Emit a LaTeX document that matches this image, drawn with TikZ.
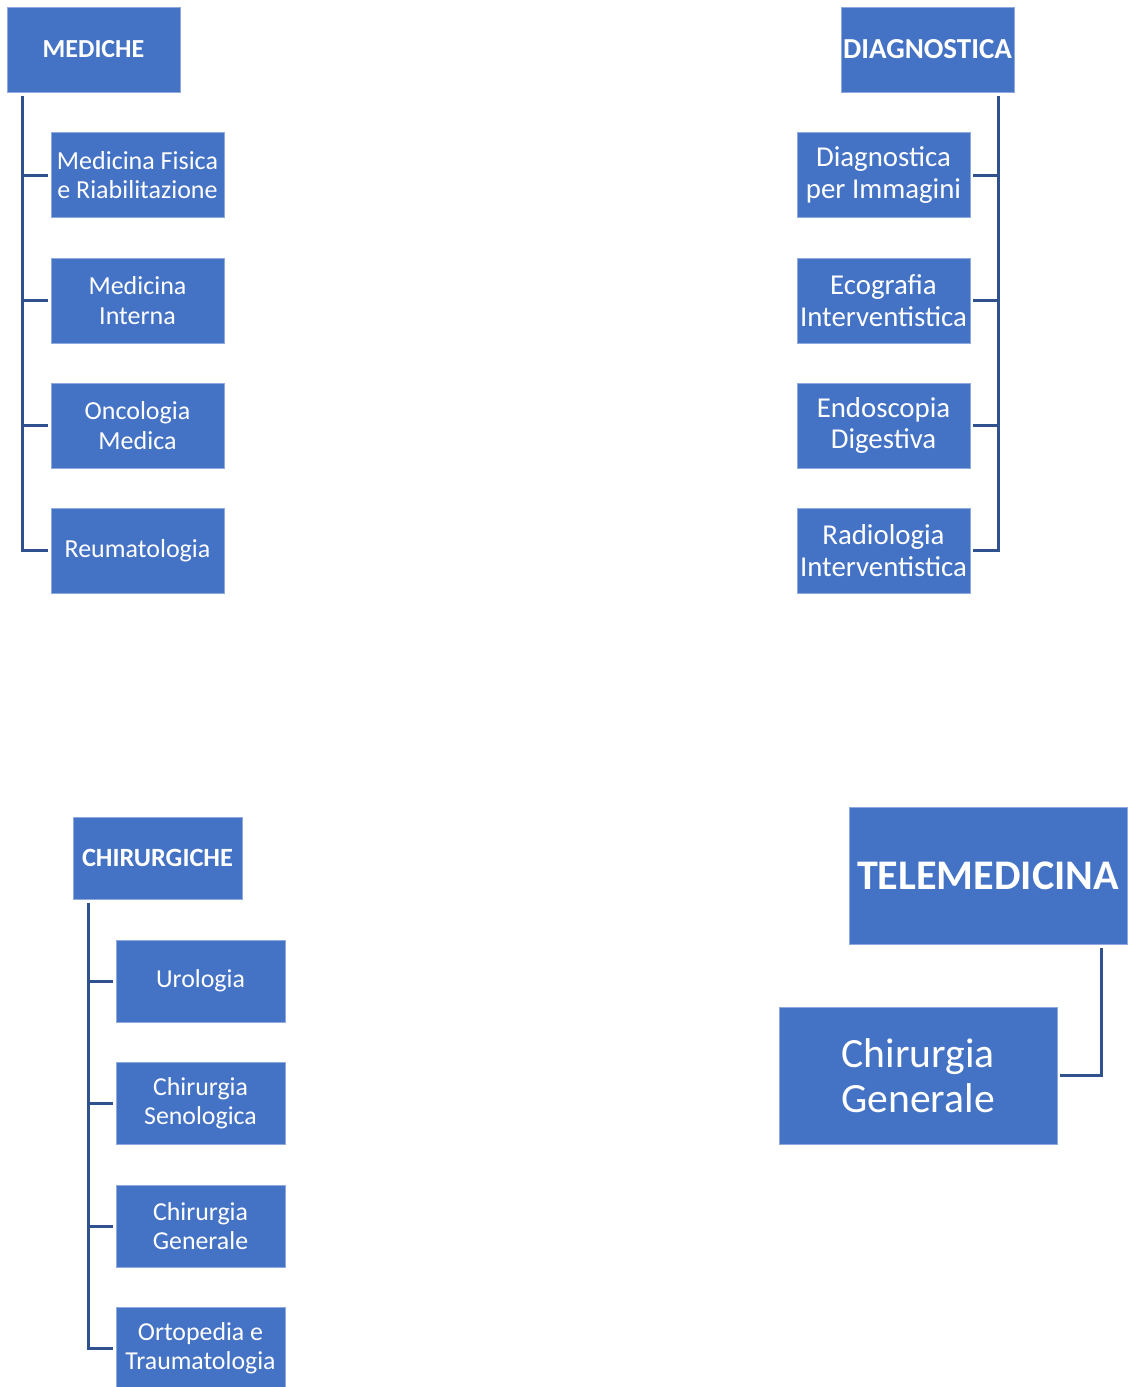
\documentclass[tikz,border=0pt]{standalone}
\usepackage{fontspec}
\setmainfont{Carlito}
\usetikzlibrary{positioning}
\definecolor{boxblue}{RGB}{68,114,196}
\definecolor{boxedge}{RGB}{143,170,220}
\definecolor{linkblue}{RGB}{47,82,143}

\begin{document}
\begin{tikzpicture}[x=0.02cm,y=-0.02cm,
box/.style={fill=boxblue, draw=boxedge, line width=0.4pt, text=white, align=center, inner sep=0pt, minimum width=3.46cm, minimum height=1.70cm},
small/.style={box, minimum width=3.38cm, minimum height=1.64cm},
big/.style={box, minimum width=5.56cm, minimum height=2.74cm},
link/.style={draw=linkblue, line width=1.7pt}]
\useasboundingbox (0,0) rectangle (1127,1387);

\node[box, font=\fontsize{14.8}{17}\selectfont\bfseries] (mediche) at (93.5,49.5) {MEDICHE};
\node[box, font=\fontsize{14.8}{17}\selectfont] (med1) at (137.5,175) {Medicina Fisica\\e Riabilitazione};
\node[box, font=\fontsize{14.8}{17}\selectfont] (med2) at (137.5,300.5) {Medicina\\Interna};
\node[box, font=\fontsize{14.8}{17}\selectfont] (med3) at (137.5,425.5) {Oncologia\\Medica};
\node[box, font=\fontsize{14.8}{17}\selectfont] (med4) at (137.5,550.5) {Reumatologia};
\coordinate (medtop) at ([shift={(16,4)}]mediche.south west);
\draw[link] (medtop) |- ([xshift=-1.5pt]med4.west);
\foreach \c in {med1,med2,med3}
  \draw[link] (medtop |- \c.west) -- ([xshift=-1.5pt]\c.west);

\node[box, font=\fontsize{16.5}{18}\selectfont\bfseries] (diagn) at (927.5,49.5) {DIAGNOSTICA};
\node[box, font=\fontsize{16.4}{18.1}\selectfont] (dia1) at (883.5,175) {Diagnostica\\per Immagini};
\node[box, font=\fontsize{16.4}{18.1}\selectfont] (dia2) at (883.5,300.5) {Ecografia\\Interventistica};
\node[box, font=\fontsize{16.4}{18.1}\selectfont] (dia3) at (883.5,425.5) {Endoscopia\\Digestiva};
\node[box, font=\fontsize{16.4}{18.1}\selectfont] (dia4) at (883.5,550.5) {Radiologia\\Interventistica};
\coordinate (diatop) at ([shift={(-16,4)}]diagn.south east);
\draw[link] (diatop) |- ([xshift=1.5pt]dia4.east);
\foreach \c in {dia1,dia2,dia3}
  \draw[link] (diatop |- \c.east) -- ([xshift=1.5pt]\c.east);

\node[small, font=\fontsize{15}{17}\selectfont\bfseries] (chirurg) at (157.5,858) {CHIRURGICHE};
\node[small, font=\fontsize{14.7}{16.5}\selectfont] (chi1) at (200.5,981) {Urologia};
\node[small, font=\fontsize{14.7}{16.5}\selectfont] (chi2) at (200.5,1103) {Chirurgia\\Senologica};
\node[small, font=\fontsize{14.7}{16.5}\selectfont] (chi3) at (200.5,1226) {Chirurgia\\Generale};
\node[small, font=\fontsize{14.7}{16.5}\selectfont] (chi4) at (200.5,1348) {Ortopedia e\\Traumatologia};
\coordinate (chitop) at ([shift={(16,4)}]chirurg.south west);
\draw[link] (chitop) |- ([xshift=-1.5pt]chi4.west);
\foreach \c in {chi1,chi2,chi3}
  \draw[link] (chitop |- \c.west) -- ([xshift=-1.5pt]\c.west);

\node[big, font=\fontsize{24}{26}\selectfont\bfseries] (tele) at (988,875.5) {TELEMEDICINA};
\node[big, font=\fontsize{23.7}{25.5}\selectfont] (telechir) at (918,1075.5) {Chirurgia\\Generale};
\draw[link] ([shift={(-26,4)}]tele.south east) |- ([xshift=1.5pt]telechir.east);
\end{tikzpicture}
\end{document}
